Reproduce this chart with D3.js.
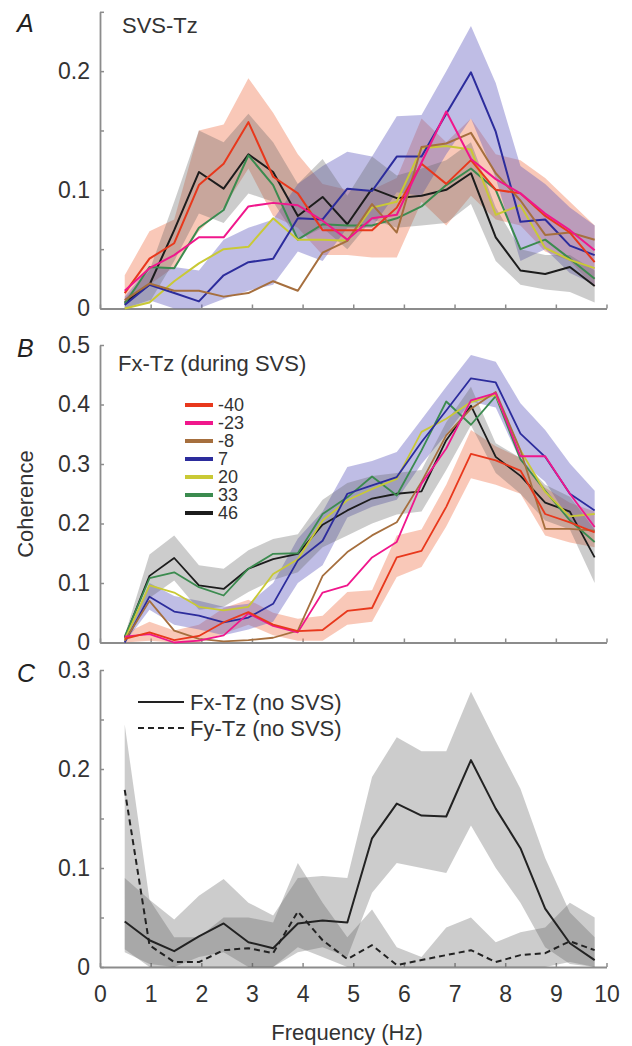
<!DOCTYPE html>
<html>
<head>
<meta charset="utf-8">
<script src="https://cdn.jsdelivr.net/npm/d3@7"></script>
<style>
  html, body { margin: 0; padding: 0; background: #fff; }
  svg { display: block; font-family: "Liberation Sans", Arial, Helvetica, sans-serif; }
</style>
</head>
<body>
<svg id="fig" width="632" height="1046"></svg>
<script>
// ---- shared ----
const freqHz = [0.488, 0.977, 1.465, 1.953, 2.441, 2.930, 3.418, 3.906, 4.395, 4.883,
                5.371, 5.859, 6.348, 6.836, 7.324, 7.813, 8.301, 8.789, 9.277, 9.766];
const freqTicks = [0, 1, 2, 3, 4, 5, 6, 7, 8, 9, 10];
const angleLabels = ["-40", "-23", "-8", "7", "20", "33", "46"];

// ---- A: SVS-Tz coherence per head angle ----
const svsM40 = [0.013,0.042,0.055,0.104,0.122,0.157,0.111,0.097,0.066,0.066,0.066,0.085,0.122,0.105,0.125,0.100,0.097,0.078,0.064,0.039];
const svsM23 = [0.015,0.034,0.045,0.060,0.060,0.086,0.089,0.087,0.074,0.058,0.076,0.079,0.123,0.166,0.126,0.109,0.097,0.080,0.066,0.049];
const svsM8  = [0.007,0.021,0.015,0.015,0.010,0.013,0.023,0.015,0.047,0.057,0.088,0.064,0.136,0.139,0.148,0.114,0.091,0.062,0.064,0.058];
const svsP7  = [0.003,0.020,0.013,0.006,0.028,0.039,0.042,0.076,0.075,0.101,0.099,0.128,0.128,0.164,0.199,0.149,0.073,0.075,0.053,0.045];
const svsP20 = [0.000,0.005,0.023,0.038,0.050,0.052,0.076,0.058,0.058,0.057,0.085,0.090,0.135,0.137,0.134,0.079,0.087,0.051,0.041,0.034];
const svsP33 = [0.004,0.035,0.034,0.068,0.083,0.129,0.104,0.058,0.071,0.070,0.070,0.076,0.086,0.104,0.118,0.100,0.050,0.058,0.042,0.025];
const svsP46 = [0.005,0.020,0.066,0.115,0.101,0.130,0.115,0.078,0.094,0.071,0.101,0.093,0.095,0.100,0.114,0.060,0.032,0.029,0.035,0.019];

const svsM40Lo = [0.003,0.020,0.035,0.065,0.085,0.118,0.078,0.068,0.045,0.045,0.043,0.043,0.090,0.070,0.095,0.075,0.070,0.048,0.040,0.018];
const svsM40Hi = [0.028,0.065,0.075,0.150,0.155,0.194,0.165,0.130,0.105,0.100,0.100,0.110,0.160,0.140,0.160,0.130,0.125,0.110,0.090,0.070];
const svsP7Lo  = [0.000,0.007,0.000,0.000,0.008,0.015,0.020,0.048,0.040,0.068,0.068,0.098,0.095,0.130,0.160,0.110,0.040,0.050,0.030,0.020];
const svsP7Hi  = [0.010,0.035,0.035,0.032,0.058,0.068,0.075,0.105,0.120,0.132,0.128,0.162,0.163,0.200,0.238,0.190,0.120,0.105,0.085,0.070];
const svsP46Lo = [0.000,0.005,0.040,0.080,0.072,0.097,0.090,0.058,0.068,0.050,0.075,0.068,0.070,0.072,0.088,0.040,0.020,0.016,0.014,0.005];
const svsP46Hi = [0.008,0.032,0.090,0.150,0.140,0.164,0.140,0.105,0.126,0.095,0.128,0.112,0.118,0.125,0.140,0.085,0.050,0.045,0.045,0.032];

// ---- B: Fx-Tz coherence during SVS ----
const fxM40 = [0.006,0.017,0.004,0.011,0.034,0.051,0.030,0.019,0.021,0.053,0.058,0.143,0.154,0.228,0.317,0.306,0.289,0.216,0.202,0.185];
const fxM23 = [0.010,0.014,0.000,0.003,0.012,0.049,0.028,0.017,0.084,0.096,0.143,0.169,0.267,0.326,0.407,0.419,0.313,0.313,0.250,0.194];
const fxM8  = [0.003,0.070,0.020,0.006,0.002,0.004,0.008,0.020,0.112,0.152,0.180,0.202,0.270,0.348,0.393,0.421,0.323,0.191,0.191,0.188];
const fxP7  = [0.000,0.077,0.052,0.045,0.034,0.042,0.065,0.138,0.171,0.250,0.264,0.278,0.337,0.390,0.444,0.437,0.351,0.312,0.250,0.222];
const fxP20 = [0.005,0.096,0.084,0.060,0.054,0.060,0.115,0.140,0.205,0.239,0.258,0.275,0.354,0.376,0.404,0.416,0.323,0.253,0.212,0.216];
const fxP33 = [0.010,0.108,0.118,0.093,0.079,0.124,0.149,0.150,0.216,0.244,0.279,0.247,0.323,0.405,0.366,0.414,0.308,0.255,0.205,0.169];
const fxP46 = [0.008,0.112,0.142,0.096,0.090,0.124,0.140,0.149,0.198,0.222,0.242,0.250,0.254,0.340,0.398,0.312,0.280,0.235,0.220,0.143];

const fxM40Lo = [0.000,0.003,0.000,0.000,0.015,0.030,0.012,0.003,0.003,0.030,0.035,0.110,0.127,0.195,0.276,0.265,0.250,0.180,0.168,0.160];
const fxM40Hi = [0.015,0.035,0.020,0.030,0.058,0.072,0.050,0.040,0.045,0.085,0.088,0.180,0.190,0.265,0.357,0.330,0.310,0.260,0.235,0.220];
const fxP7Lo  = [0.000,0.055,0.030,0.022,0.012,0.022,0.035,0.100,0.130,0.210,0.228,0.240,0.300,0.350,0.405,0.395,0.305,0.270,0.205,0.185];
const fxP7Hi  = [0.005,0.100,0.078,0.070,0.060,0.065,0.100,0.175,0.220,0.295,0.305,0.320,0.375,0.430,0.483,0.472,0.402,0.357,0.301,0.255];
const fxP46Lo = [0.000,0.075,0.104,0.055,0.060,0.085,0.105,0.118,0.160,0.180,0.200,0.215,0.220,0.290,0.365,0.285,0.250,0.205,0.190,0.100];
const fxP46Hi = [0.012,0.148,0.180,0.130,0.124,0.155,0.174,0.182,0.240,0.268,0.280,0.285,0.290,0.370,0.430,0.335,0.310,0.265,0.245,0.190];

// ---- C: coherence without SVS ----
const fxNoSvs   = [0.046,0.027,0.016,0.031,0.044,0.025,0.019,0.044,0.047,0.045,0.130,0.165,0.153,0.152,0.209,0.160,0.120,0.059,0.024,0.007];
const fyNoSvs   = [0.179,0.022,0.005,0.005,0.017,0.019,0.014,0.056,0.027,0.008,0.022,0.002,0.007,0.012,0.017,0.005,0.012,0.014,0.026,0.017];
const fxNoSvsLo = [0.015,0.003,0.000,0.010,0.015,0.000,0.000,0.015,0.020,0.010,0.075,0.105,0.100,0.095,0.143,0.100,0.065,0.020,0.003,0.000];
const fxNoSvsHi = [0.090,0.068,0.048,0.072,0.089,0.065,0.052,0.090,0.092,0.090,0.192,0.232,0.218,0.218,0.278,0.228,0.180,0.110,0.055,0.030];
const fyNoSvsLo = [0.018,0.000,0.000,0.000,0.000,0.000,0.000,0.020,0.010,0.000,0.000,0.000,0.000,0.000,0.000,0.000,0.000,0.000,0.005,0.000];
const fyNoSvsHi = [0.245,0.068,0.030,0.030,0.050,0.050,0.045,0.105,0.065,0.030,0.058,0.020,0.010,0.040,0.050,0.025,0.035,0.040,0.065,0.050];

// ---- styles ----
const lineColor = ["#e8381c", "#f0178c", "#a66f3e", "#2c2c9c", "#c9c935", "#3b8b4f", "#1c1c1c"];
const bandColor = { "-40": "rgba(240,125,85,0.42)", "7": "rgba(95,90,190,0.40)", "46": "rgba(95,95,95,0.32)" };
const axisGrey = "#8c8c8c";
const textColor = "#333";

const svg = d3.select("#fig");
const x = d3.scaleLinear().domain([0, 10]).range([100, 606.5]);

const lineGen = y => d3.line().x((d, i) => x(freqHz[i])).y(d => y(d));
const areaGen = y => d3.area().x(d => x(d[0])).y0(d => y(d[1])).y1(d => y(d[2]));

function drawAxes(y, tickVals, showXLabels) {
  const isLabeled = d => Math.abs(d * 10 - Math.round(d * 10)) < 1e-6;
  const yAxis = d3.axisLeft(y)
    .tickValues(tickVals)
    .tickSizeInner(-4).tickSizeOuter(0).tickPadding(10)
    .tickFormat(d => d === 0 ? "0" : (isLabeled(d) ? d3.format(".1f")(d) : ""));
  const gy = svg.append("g").attr("transform", `translate(${x(0)},0)`).call(yAxis);

  const xAxis = d3.axisBottom(x)
    .tickValues(freqTicks)
    .tickSizeInner(-4).tickSizeOuter(0).tickPadding(19)
    .tickFormat(showXLabels ? d3.format("d") : () => "");
  const gx = svg.append("g").attr("transform", `translate(0,${y(0)})`).call(xAxis);

  [gx, gy].forEach(g => {
    g.select(".domain").attr("stroke", axisGrey).attr("stroke-width", 1.8);
    g.selectAll(".tick line").attr("stroke", axisGrey).attr("stroke-width", 1.5);
    g.selectAll(".tick text").attr("fill", textColor).style("font-size", "23px")
      .style("font-family", "'Liberation Sans', Arial, sans-serif");
  });
}

function drawBand(y, lo, hi, fill) {
  svg.append("path")
    .datum(d3.zip(freqHz, lo, hi))
    .attr("d", areaGen(y))
    .attr("fill", fill)
    .attr("stroke", "none");
}

function drawLine(y, vals, color, width, dash) {
  svg.append("path")
    .datum(vals)
    .attr("d", lineGen(y))
    .attr("fill", "none")
    .attr("stroke", color)
    .attr("stroke-width", width)
    .attr("stroke-linejoin", "round")
    .attr("stroke-dasharray", dash || null);
}

function panelLetter(txt, yBase) {
  svg.append("text").attr("x", 17).attr("y", yBase)
    .attr("fill", "#222").style("font-size", "25px").style("font-style", "italic")
    .text(txt);
}

function title(txt, xPos, yBase) {
  svg.append("text").attr("x", xPos).attr("y", yBase)
    .attr("fill", textColor).style("font-size", "22px").text(txt);
}

// ---- Panel A ----
const yA = d3.scaleLinear().domain([0, 0.25]).range([308.5, 11.8]);
drawAxes(yA, [0, 0.05, 0.1, 0.15, 0.2, 0.25], false);
drawBand(yA, svsM40Lo, svsM40Hi, bandColor["-40"]);
drawBand(yA, svsP7Lo, svsP7Hi, bandColor["7"]);
drawBand(yA, svsP46Lo, svsP46Hi, bandColor["46"]);
const svsSeries = [svsM40, svsM23, svsM8, svsP7, svsP20, svsP33, svsP46];
[6, 5, 4, 3, 2, 0, 1].forEach(i => drawLine(yA, svsSeries[i], lineColor[i], 2));
panelLetter("A", 32);
title("SVS-Tz", 122, 33);

// ---- Panel B ----
const yB = d3.scaleLinear().domain([0, 0.5]).range([642.5, 345]);
drawAxes(yB, [0, 0.1, 0.2, 0.3, 0.4, 0.5], false);
drawBand(yB, fxM40Lo, fxM40Hi, bandColor["-40"]);
drawBand(yB, fxP7Lo, fxP7Hi, bandColor["7"]);
drawBand(yB, fxP46Lo, fxP46Hi, bandColor["46"]);
const fxSeries = [fxM40, fxM23, fxM8, fxP7, fxP20, fxP33, fxP46];
[6, 5, 4, 3, 2, 1, 0].forEach(i => drawLine(yB, fxSeries[i], lineColor[i], 1.8));
panelLetter("B", 357);
title("Fx-Tz (during SVS)", 118, 371);

// legend of head angles
const legend = svg.append("g").attr("transform", "translate(185,405)");
angleLabels.forEach((lab, i) => {
  const row = legend.append("g").attr("transform", `translate(0,${i * 18})`);
  row.append("line").attr("x1", 0).attr("x2", 28).attr("y1", 0).attr("y2", 0)
    .attr("stroke", lineColor[i]).attr("stroke-width", 4);
  row.append("text").attr("x", 33).attr("y", 0).attr("dy", "0.35em")
    .attr("fill", textColor).style("font-size", "18px").text(lab);
});

// y-axis title
svg.append("text")
  .attr("transform", "translate(33,504) rotate(-90)")
  .attr("text-anchor", "middle").attr("fill", textColor)
  .style("font-size", "22px").text("Coherence");

// ---- Panel C ----
const yC = d3.scaleLinear().domain([0, 0.3]).range([967, 670]);
drawAxes(yC, [0, 0.05, 0.1, 0.15, 0.2, 0.25, 0.3], true);
drawBand(yC, fyNoSvsLo, fyNoSvsHi, "rgba(85,85,85,0.30)");
drawBand(yC, fxNoSvsLo, fxNoSvsHi, "rgba(85,85,85,0.30)");
drawLine(yC, fyNoSvs, "#222", 2, "6,4");
drawLine(yC, fxNoSvs, "#222", 2);
panelLetter("C", 682);

const legC = svg.append("g");
[["Fx-Tz (no SVS)", null, 702], ["Fy-Tz (no SVS)", "6,4", 728]].forEach(([lab, dash, yy]) => {
  legC.append("line").attr("x1", 138).attr("x2", 184).attr("y1", yy).attr("y2", yy)
    .attr("stroke", "#222").attr("stroke-width", 2).attr("stroke-dasharray", dash);
  legC.append("text").attr("x", 190).attr("y", yy).attr("dy", "0.35em")
    .attr("fill", textColor).style("font-size", "22px").text(lab);
});

// x-axis title
svg.append("text").attr("x", 347).attr("y", 1040)
  .attr("text-anchor", "middle").attr("fill", textColor)
  .style("font-size", "22px").text("Frequency (Hz)");
</script>
</body>
</html>
